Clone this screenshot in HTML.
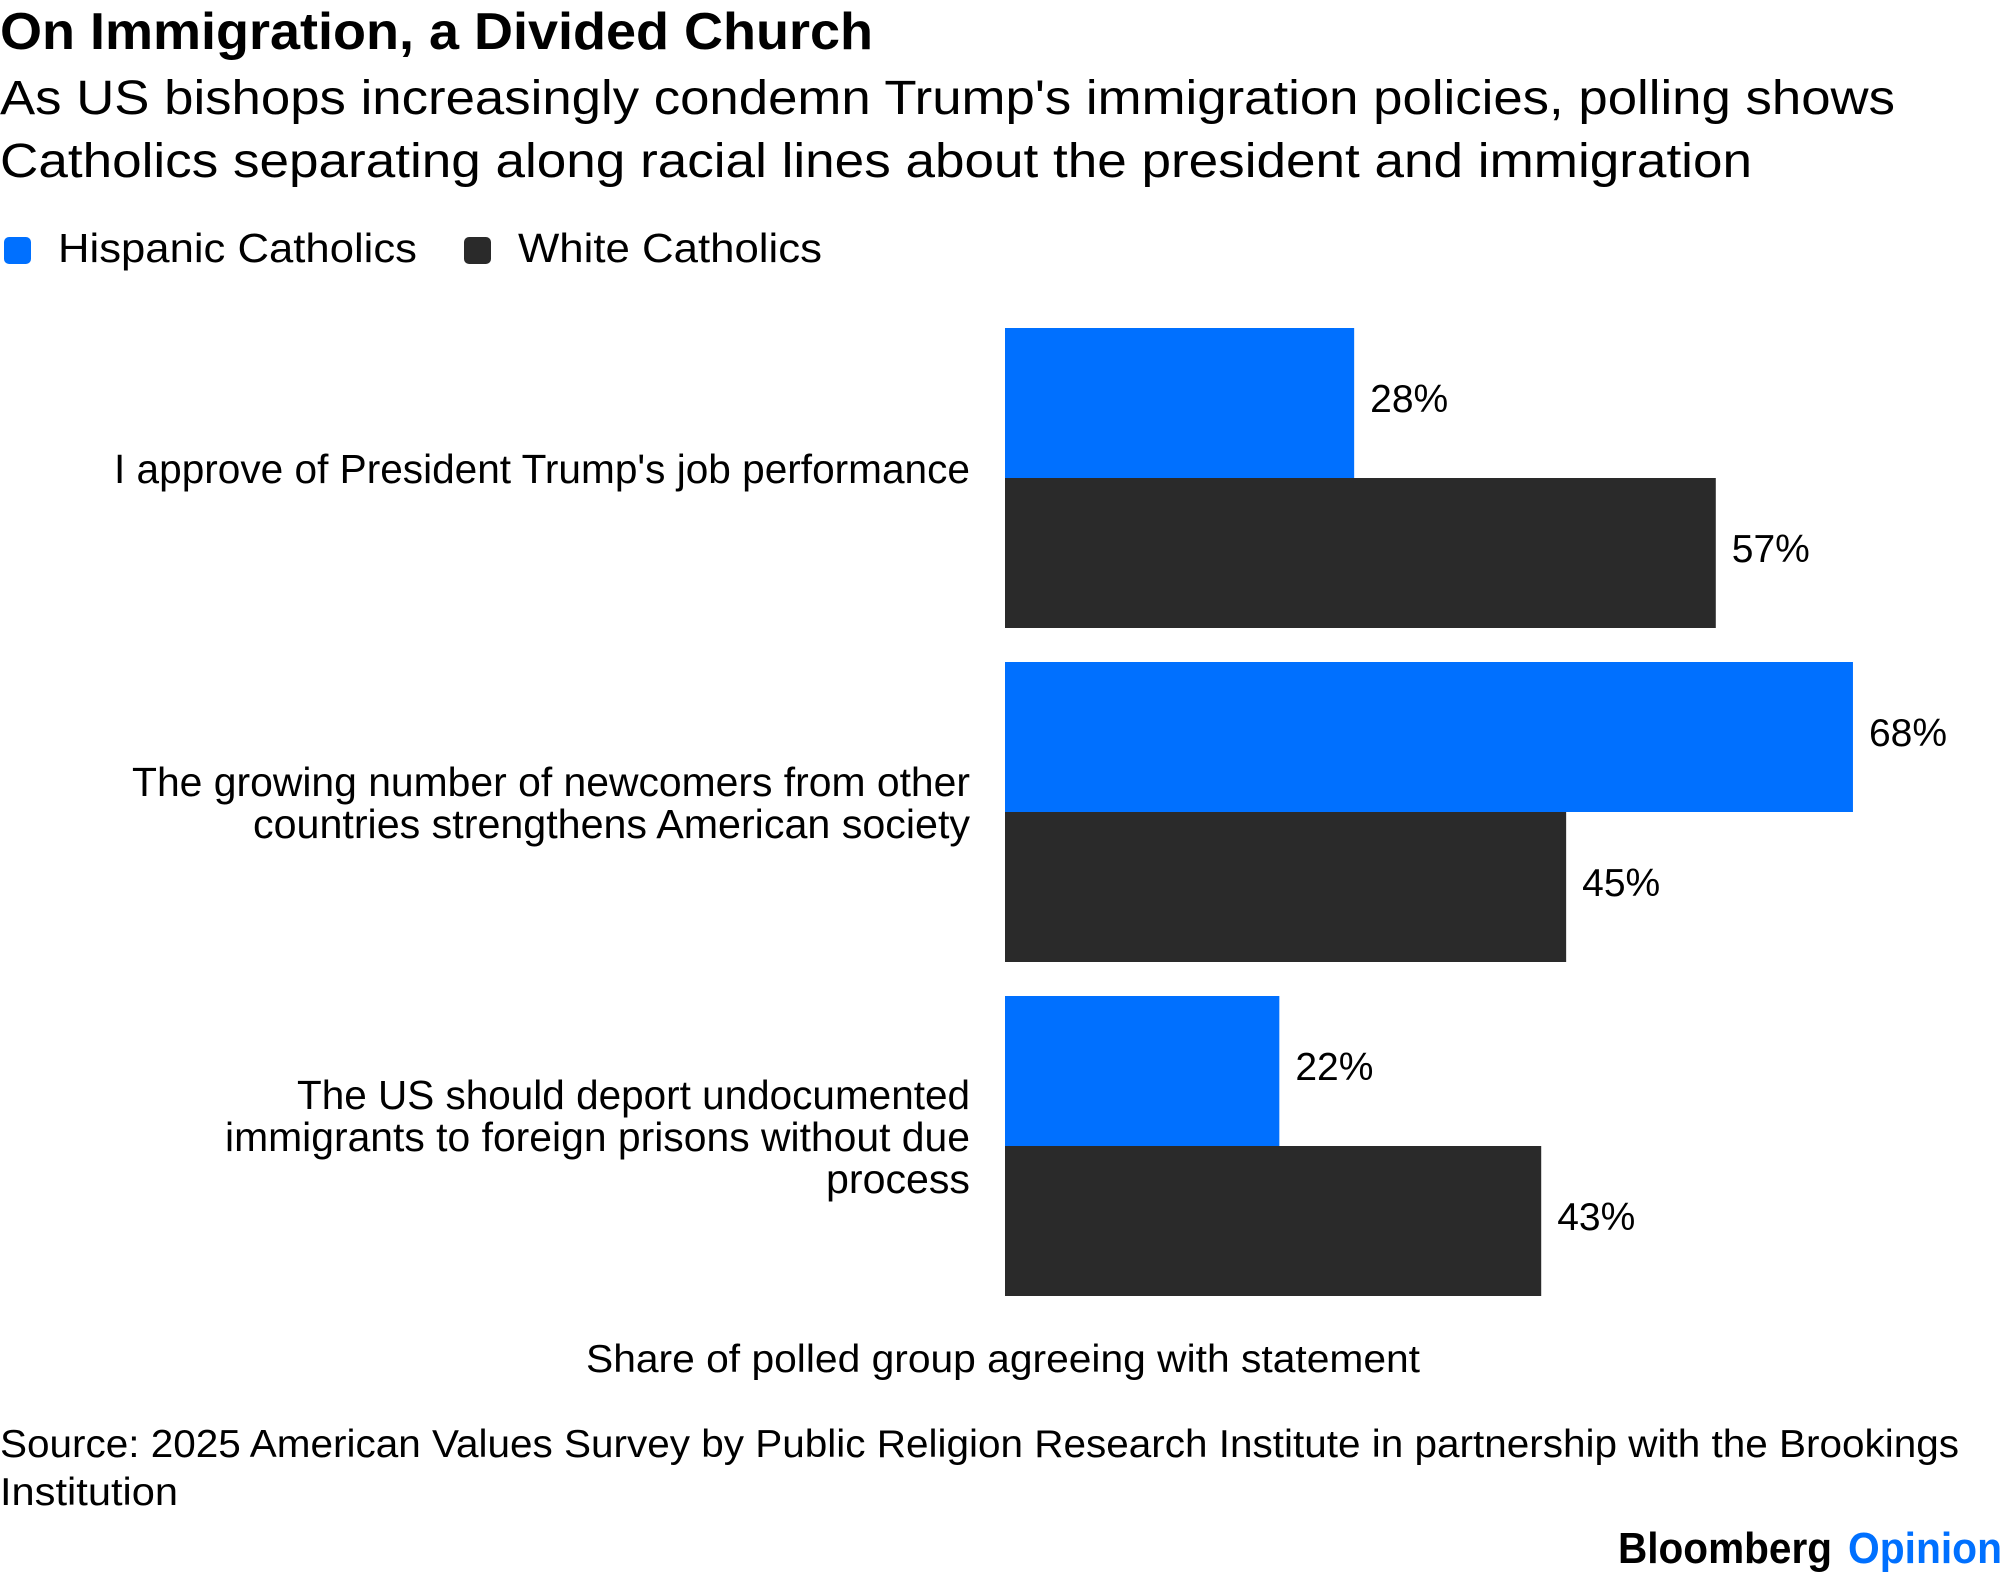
<!DOCTYPE html>
<html><head><meta charset="utf-8">
<style>
html,body{margin:0;padding:0;background:#fff;}
svg{display:block;font-family:"Liberation Sans",sans-serif;}
</style></head>
<body>
<svg id="chart" width="2006" height="1575" viewBox="0 0 2006 1575" xmlns="http://www.w3.org/2000/svg">
  <text x="0" y="49" font-size="52" font-weight="bold" fill="#000" textLength="873" lengthAdjust="spacingAndGlyphs">On Immigration, a Divided Church</text>
  <text x="0" y="114" font-size="48" fill="#000" textLength="1895" lengthAdjust="spacingAndGlyphs">As US bishops increasingly condemn Trump's immigration policies, polling shows</text>
  <text x="0" y="177" font-size="48" fill="#000" textLength="1752" lengthAdjust="spacingAndGlyphs">Catholics separating along racial lines about the president and immigration</text>

  <g>
    <rect x="4" y="237" width="27" height="27" rx="5" fill="#0070ff"/>
    <text x="58" y="262" font-size="41" fill="#000" textLength="359" lengthAdjust="spacingAndGlyphs">Hispanic Catholics</text>
    <rect x="464" y="237" width="27" height="27" rx="5" fill="#2a2a2a"/>
    <text x="518" y="262" font-size="41" fill="#000" textLength="304" lengthAdjust="spacingAndGlyphs">White Catholics</text>
  </g>

  <g id="bars"></g>
  <g id="cats"></g>

  <text x="1003" y="1372" font-size="39" fill="#000" text-anchor="middle" textLength="834" lengthAdjust="spacingAndGlyphs">Share of polled group agreeing with statement</text>
  <text x="0" y="1457" font-size="39" fill="#000" textLength="1959" lengthAdjust="spacingAndGlyphs">Source: 2025 American Values Survey by Public Religion Research Institute in partnership with the Brookings</text>
  <text x="0" y="1505" font-size="39" fill="#000" textLength="178" lengthAdjust="spacingAndGlyphs">Institution</text>
  <text x="1618" y="1563" font-size="44" font-weight="bold" fill="#000" textLength="214" lengthAdjust="spacingAndGlyphs">Bloomberg</text>
  <text x="1848" y="1563" font-size="44" font-weight="bold" fill="#0070ff" textLength="154" lengthAdjust="spacingAndGlyphs">Opinion</text>
</svg>
<script>
const categories = [
  ["I approve of President Trump's job performance"],
  ["The growing number of newcomers from other", "countries strengthens American society"],
  ["The US should deport undocumented", "immigrants to foreign prisons without due", "process"]
];
const hispanicValues = [28, 68, 22];
const whiteValues = [57, 45, 43];
const valueLabelsHispanic = ["28%", "68%", "22%"];
const valueLabelsWhite = ["57%", "45%", "43%"];

const NS = "http://www.w3.org/2000/svg";
const x0 = 1005, pxPerUnit = 12.47;
const groupTop0 = 328, groupStep = 334, barH = 150;
const labelRight = 970;
const labelLeft = [[114], [132, 253], [297, 225, 826]];
function xScale(v){ return x0 + v * pxPerUnit; }
function groupTop(i){ return groupTop0 + i * groupStep; }

const barsG = document.getElementById('bars');
const catsG = document.getElementById('cats');

function addBar(i, v, label, offset, color, series){
  const r = document.createElementNS(NS, 'rect');
  r.setAttribute('x', x0);
  r.setAttribute('y', groupTop(i) + offset);
  r.setAttribute('width', xScale(v) - x0);
  r.setAttribute('height', barH);
  r.setAttribute('fill', color);
  
  
  barsG.appendChild(r);
  const t = document.createElementNS(NS, 'text');
  t.setAttribute('x', xScale(v) + 16);
  t.setAttribute('y', groupTop(i) + offset + barH / 2 + 9);
  t.setAttribute('font-size', '39');
  t.setAttribute('fill', '#000');
  t.textContent = label;
  
  
  barsG.appendChild(t);
}

categories.forEach((lines, i) => {
  addBar(i, hispanicValues[i], valueLabelsHispanic[i], 0, '#0070ff', 'hispanic');
  addBar(i, whiteValues[i], valueLabelsWhite[i], barH, '#2a2a2a', 'white');
  const center = groupTop(i) + barH;
  const lh = 42;
  const firstBase = center - (lines.length - 1) * lh / 2 + 5;
  lines.forEach((ln, j) => {
    const t = document.createElementNS(NS, 'text');
    t.setAttribute('x', labelRight);
    t.setAttribute('y', firstBase + j * lh);
    t.setAttribute('font-size', '41');
    t.setAttribute('text-anchor', 'end');
    t.setAttribute('textLength', labelRight - labelLeft[i][j]);
    t.setAttribute('lengthAdjust', 'spacingAndGlyphs');
    t.setAttribute('fill', '#000');
    t.textContent = ln;
    
    
    catsG.appendChild(t);
  });
});
</script>
</body></html>
